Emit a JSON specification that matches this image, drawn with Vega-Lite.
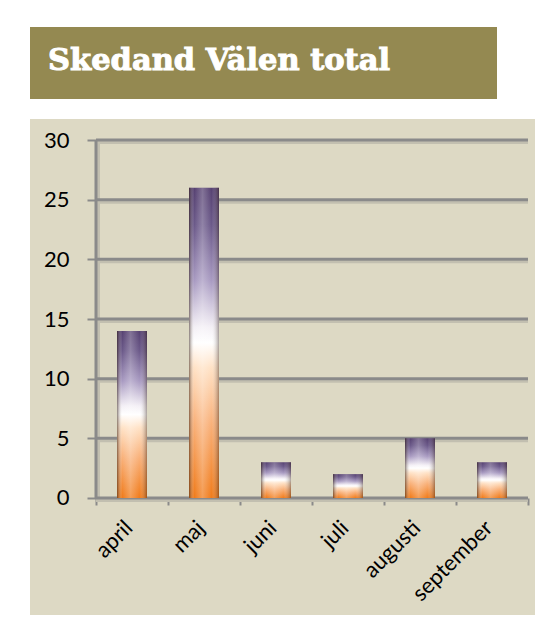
{
  "$schema": "https://vega.github.io/schema/vega-lite/v6.json",
  "background": "white",
  "padding": {"left": 30, "top": 27, "right": 5, "bottom": 5},
  "autosize": {"type": "pad"},
  "datasets": {
    "counts": [
      {"month": "april", "count": 14},
      {"month": "maj", "count": 26},
      {"month": "juni", "count": 3},
      {"month": "juli", "count": 2},
      {"month": "augusti", "count": 5},
      {"month": "september", "count": 3}
    ],
    "heading": [{"text": "Skedand Välen total"}],
    "grid": [{"v": 0}, {"v": 5}, {"v": 10}, {"v": 15}, {"v": 20}, {"v": 25}, {"v": 30}],
    "one": [{}]
  },
  "spacing": 20,
  "vconcat": [
    {
      "width": 467,
      "height": 72,
      "view": {"fill": "#948951", "stroke": null},
      "data": {"name": "heading"},
      "mark": {"type": "text", "align": "left", "baseline": "middle", "dx": -215.5, "dy": -2, "font": "DejaVu Serif", "fontWeight": "bold", "fontSize": 30.5, "fill": "white", "stroke": "white", "strokeWidth": 1},
      "encoding": {"text": {"field": "text", "type": "nominal"}}
    },
    {
      "width": 505,
      "height": 496,
      "view": {"fill": "#ddd9c4", "stroke": null},
      "resolve": {"scale": {"x": "independent"}},
      "encoding": {
        "y": {"type": "quantitative", "scale": {"domain": [-9.8045, 31.7598], "nice": false, "zero": false},
          "axis": {"orient": "left", "offset": -66, "values": [0, 5, 10, 15, 20, 25, 30], "domain": false, "grid": false, "tickSize": 9, "tickWidth": 2, "tickColor": "#8a8a8a", "labelFontSize": 22, "labelFont": "Lato", "labelColor": "#000000", "labelPadding": 18, "title": null}}
      },
      "layer": [
        {
          "data": {"name": "grid"},
          "mark": {"type": "rule", "color": "#c2bfb0", "strokeWidth": 3, "yOffset": 2.5},
          "encoding": {
            "y": {"field": "v"},
            "x": {"datum": 0, "type": "quantitative", "scale": {"domain": [-0.916667, 6.097222], "nice": false, "zero": false}, "axis": null},
            "x2": {"datum": 6}
          }
        },
        {
          "data": {"name": "one"},
          "mark": {"type": "rule", "color": "#c2bfb0", "strokeWidth": 3, "xOffset": 2.5},
          "encoding": {
            "x": {"datum": 0, "type": "quantitative", "scale": {"domain": [-0.916667, 6.097222], "nice": false, "zero": false}, "axis": null},
            "y": {"datum": 0},
            "y2": {"datum": 30}
          }
        },
        {
          "data": {"name": "grid"},
          "mark": {"type": "rule", "color": "#8a8a8a", "strokeWidth": 3},
          "encoding": {
            "y": {"field": "v"},
            "x": {"datum": 0, "type": "quantitative", "scale": {"domain": [-0.916667, 6.097222], "nice": false, "zero": false},
              "axis": {"orient": "bottom", "offset": -117, "values": [0, 1, 2, 3, 4, 5, 6], "labels": false, "domain": false, "grid": false, "ticks": true, "tickSize": 7, "tickWidth": 2, "tickColor": "#8a8a8a", "title": null}},
            "x2": {"datum": 6}
          }
        },
        {
          "data": {"name": "one"},
          "mark": {"type": "rule", "color": "#8a8a8a", "strokeWidth": 3},
          "encoding": {
            "x": {"datum": 0, "type": "quantitative", "scale": {"domain": [-0.916667, 6.097222], "nice": false, "zero": false}, "axis": null},
            "y": {"datum": 0},
            "y2": {"datum": 30}
          }
        },
        {
          "data": {"name": "counts"},
          "mark": {"type": "bar", "fill": {"gradient": "linear", "x1": 0, "y1": 0, "x2": 0, "y2": 1, "stops": [
            {"offset": 0, "color": "#574272"},
            {"offset": 0.12, "color": "#6c5a8a"},
            {"offset": 0.3, "color": "#a99bc2"},
            {"offset": 0.45, "color": "#f4f0f6"},
            {"offset": 0.5, "color": "#ffffff"},
            {"offset": 0.58, "color": "#ffe2c6"},
            {"offset": 0.76, "color": "#f9b17a"},
            {"offset": 1, "color": "#f07c1c"}
          ]}},
          "encoding": {
            "x": {"field": "month", "type": "nominal", "sort": null,
              "scale": {"paddingInner": 0.583333, "paddingOuter": 0.798611, "align": 0.756522},
              "axis": {"orient": "bottom", "offset": -117, "labelAngle": -45, "labelAlign": "right", "labelBaseline": "middle", "labelFontSize": 22, "labelFont": "Lato", "labelColor": "#000000", "labelOffset": -3, "ticks": false, "tickSize": 0, "domain": false, "grid": false, "labelPadding": 26, "title": null}},
            "y": {"field": "count"},
            "y2": {"datum": 0}
          }
        },
        {
          "data": {"name": "counts"},
          "mark": {"type": "bar", "fill": {"gradient": "linear", "x1": 0, "y1": 0, "x2": 1, "y2": 0, "stops": [
            {"offset": 0, "color": "rgba(40,20,10,0.55)"},
            {"offset": 0.18, "color": "rgba(255,255,255,0)"},
            {"offset": 0.45, "color": "rgba(255,255,255,0.25)"},
            {"offset": 0.75, "color": "rgba(255,255,255,0)"},
            {"offset": 1, "color": "rgba(40,20,10,0.4)"}
          ]}},
          "encoding": {
            "x": {"field": "month", "type": "nominal", "sort": null,
              "scale": {"paddingInner": 0.583333, "paddingOuter": 0.798611, "align": 0.756522}, "axis": null},
            "y": {"field": "count"},
            "y2": {"datum": 0}
          }
        }
      ]
    }
  ]
}
